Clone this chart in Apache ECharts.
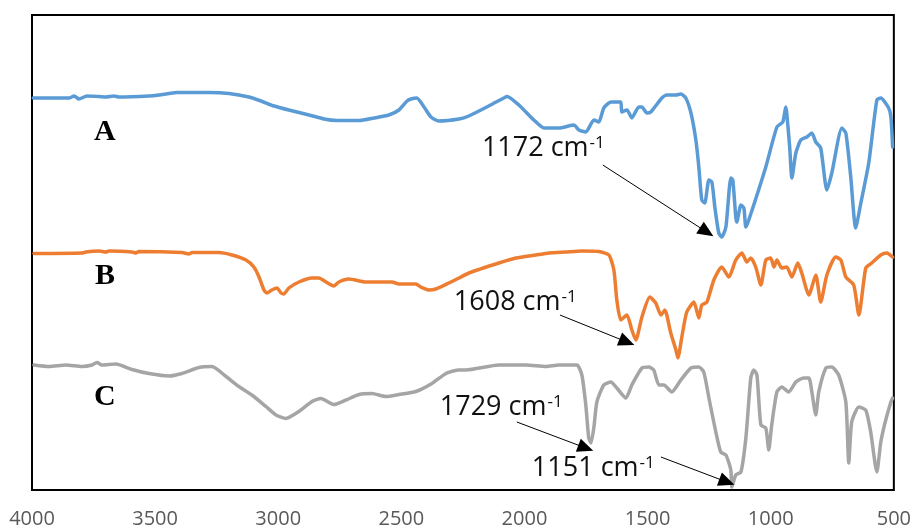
<!DOCTYPE html>
<html>
<head>
<meta charset="utf-8">
<script src="https://cdn.jsdelivr.net/npm/echarts@6/dist/echarts.min.js"></script>
<style>
  html, body { margin: 0; padding: 0; background: #fff; }
  #chart { width: 914px; height: 529px; }
</style>
</head>
<body>
<div id="chart"></div>
<script>
// wavenumber (cm-1) and offset transmittance (a.u.)
const xTicks = [4000, 3500, 3000, 2500, 2000, 1500, 1000, 500]

const waveA = [3995,3850,3829,3809,3777,3728,3700,3667,3647,3525,3484,3411,3322,3281,3200,3119,3070,3017,2957,2875,2814,2762,2672,2611,2551,2510,2477,2461,2437,2408,2380,2348,2266,2226,2145,2084,2071,2023,1962,1921,1860,1799,1779,1751,1718,1698,1678,1649,1609,1605,1584,1564,1536,1523,1503,1487,1442,1422,1385,1365,1345,1324,1304,1292,1280,1268,1251,1239,1227,1211,1199,1182,1162,1154,1142,1138,1121,1109,1101,1089,1020,975,951,939,935,923,914,898,878,853,833,817,797,772,752,711,695,675,655,634,602,569,553,521,512,505]
const transA = [78.4,78.4,78.8,78.2,78.8,78.7,78.6,78.8,78.6,78.8,79.0,79.5,79.5,79.5,79.3,78.6,77.8,76.8,76.0,75.0,74.2,73.9,73.9,74.4,75.0,76.0,77.8,78.2,78.4,76.6,74.6,73.8,74.2,74.8,76.8,78.4,78.7,77.0,74.0,72.4,72.4,73.0,72.0,71.6,74.0,73.6,76.4,77.6,77.6,75.6,76.0,74.4,76.6,76.6,75.4,75.6,78.4,79.0,79.0,79.2,78.4,75.4,70.0,64.6,58.0,57.4,62.0,61.6,56.6,51.4,50.6,52.6,62.4,62.0,54.6,53.6,57.0,56.4,52.6,54.0,64.6,72.6,73.6,76.6,75.4,68.6,62.4,67.4,70.0,70.6,71.4,69.6,68.4,60.0,63.4,72.4,71.4,62.6,52.4,57.4,65.4,78.0,78.4,76.4,74.6,68.6]

const waveB = [3992,3797,3781,3728,3700,3687,3594,3578,3566,3391,3363,3350,3241,3188,3131,3099,3078,3058,3046,3026,3005,2989,2977,2957,2916,2863,2835,2806,2774,2754,2713,2644,2538,2510,2441,2421,2388,2360,2307,2266,2226,2104,2035,1954,1901,1832,1767,1698,1657,1637,1625,1609,1584,1564,1548,1523,1491,1467,1446,1430,1406,1385,1377,1361,1341,1312,1292,1280,1259,1231,1199,1170,1142,1117,1097,1081,1061,1040,1020,1000,987,975,955,935,914,890,874,845,817,797,772,736,715,695,663,642,614,590,553,529,505]
const transB = [47.3,47.4,47.6,47.8,47.6,47.8,47.6,47.4,47.7,47.5,47.2,47.5,47.5,47.0,46.0,44.6,42.6,40.0,39.4,40.0,40.4,39.4,39.2,40.4,41.6,42.4,42.4,41.6,40.8,41.6,42.2,41.6,41.6,41.2,41.2,40.6,40.0,40.2,41.4,42.4,43.4,45.4,46.4,47.0,47.4,47.6,47.8,47.7,47.0,44.0,38.0,34.0,35.0,32.0,30.0,34.6,38.6,37.4,35.0,36.0,31.4,28.0,26.4,30.6,35.6,37.6,34.4,37.0,37.6,42.0,44.6,42.6,46.0,47.4,45.6,46.4,44.6,41.0,46.0,46.4,44.6,46.0,44.4,44.6,42.6,45.4,43.4,39.0,43.0,37.6,43.0,46.6,46.0,42.6,41.0,35.0,44.4,45.4,47.0,47.4,46.6]

const waveC = [3992,3931,3862,3797,3756,3736,3716,3659,3594,3525,3444,3391,3322,3269,3212,3160,3107,3050,3009,2969,2916,2863,2827,2774,2725,2672,2620,2563,2510,2441,2376,2319,2266,2238,2104,1994,1913,1860,1787,1767,1751,1739,1730,1718,1706,1678,1649,1625,1588,1564,1523,1495,1475,1454,1434,1402,1365,1324,1292,1272,1251,1223,1203,1182,1162,1158,1142,1121,1101,1081,1069,1056,1040,1020,1008,996,975,955,927,898,866,845,833,817,805,776,752,724,695,683,671,642,614,594,569,553,533,512,505]
const transC = [25.0,24.7,25.0,24.7,25.0,25.5,25.0,25.2,24.1,23.3,22.8,23.3,24.5,24.7,22.7,20.7,19.0,16.7,15.0,14.3,15.7,17.7,18.3,17.1,18.0,19.1,19.3,18.7,19.1,19.7,21.3,23.3,24.0,24.0,25.0,25.0,24.7,25.0,25.0,23.0,17.0,10.4,9.4,12.6,17.6,21.0,21.6,20.4,18.4,21.0,24.4,24.6,24.0,21.0,21.0,19.6,22.0,24.4,24.6,23.6,18.4,11.6,7.6,7.0,4.0,0.6,3.0,3.6,10.4,22.4,24.0,23.0,13.0,12.4,8.0,13.0,19.6,20.6,19.6,21.6,22.4,22.4,19.6,15.0,19.6,24.4,24.6,23.0,17.6,5.4,13.6,16.6,16.0,11.6,3.6,9.6,14.0,17.6,18.4]

// trace letters: [name, wavenumber, value]
const traceLetters = [['A', 3704, 71.6], ['B', 3704, 42.8], ['C', 3704, 18.6]]

// peak notes: [label, text anchor, arrow start, arrow end]
const notesA = [['1172', [2173, 68.4], [1682, 65.0], [1260, 51.6]]]
const notesB = [['1608', [2287, 37.6], [1856, 35.0], [1584, 29.6]]]
const notesC = [
  ['1729', [2344, 16.6], [2031, 13.6], [1751, 8.4]],
  ['1151', [1970, 4.4], [1446, 6.6], [1178, 1.6]]
]

const zip = (xs, ys) => xs.map((x, i) => [x, ys[i]])

const noteRich = {
  t: { fontFamily: 'Open Sans', fontSize: 27, color: '#111' },
  s: { fontFamily: 'Open Sans', fontSize: 17, color: '#111', verticalAlign: 'top', padding: [0, 0, 0, 1] }
}

const buildMarks = (notes, letter) => {
  const points = notes.map(n => ({
    coord: n[1],
    symbolSize: 0,
    label: {
      show: true,
      position: 'right',
      distance: 0,
      formatter: '{t|' + n[0] + ' cm}{s|-1}',
      rich: noteRich
    }
  }))
  points.push({
    coord: [letter[1], letter[2]],
    symbolSize: 0,
    label: {
      show: true,
      position: 'inside',
      formatter: letter[0],
      fontFamily: 'Liberation Serif',
      fontWeight: 'bold',
      fontSize: 30,
      color: '#000'
    }
  })
  return {
    markPoint: { symbol: 'circle', silent: true, data: points },
    markLine: {
      silent: true,
      symbol: ['none', 'triangle'],
      symbolSize: [14, 16],
      lineStyle: { color: '#000', width: 1, type: 'solid' },
      itemStyle: { color: '#000' },
      label: { show: false },
      data: notes.map(n => [{ coord: n[2] }, { coord: n[3] }])
    }
  }
}

const makeSeries = (name, xs, ys, color, notes, letter) => Object.assign({
  name: name,
  type: 'line',
  data: zip(xs, ys),
  showSymbol: false,
  smooth: 0.2,
  lineStyle: { color: color, width: 3.5, join: 'round', cap: 'round' },
  itemStyle: { color: color }
}, buildMarks(notes, letter))

const chart = echarts.init(document.getElementById('chart'))

chart.setOption({
  animation: false,
  grid: {
    left: 32,
    right: 19,
    top: 15,
    bottom: 39,
    show: true,
    borderColor: '#000',
    borderWidth: 2,
    backgroundColor: '#fff'
  },
  xAxis: {
    type: 'value',
    min: 500,
    max: 4000,
    interval: 500,
    inverse: true,
    axisLine: { show: false },
    axisTick: { show: false },
    splitLine: { show: false },
    axisLabel: {
      margin: 19,
      color: '#595959',
      fontFamily: 'Open Sans',
      fontSize: 20,
      formatter: v => (xTicks.includes(v) ? String(v) : '')
    }
  },
  yAxis: {
    type: 'value',
    min: 0,
    max: 95,
    show: false
  },
  series: [
    makeSeries('A', waveA, transA, '#5B9BD5', notesA, traceLetters[0]),
    makeSeries('B', waveB, transB, '#ED7D31', notesB, traceLetters[1]),
    makeSeries('C', waveC, transC, '#A5A5A5', notesC, traceLetters[2])
  ]
})

window.addEventListener('resize', () => chart.resize())
</script>
</body>
</html>
